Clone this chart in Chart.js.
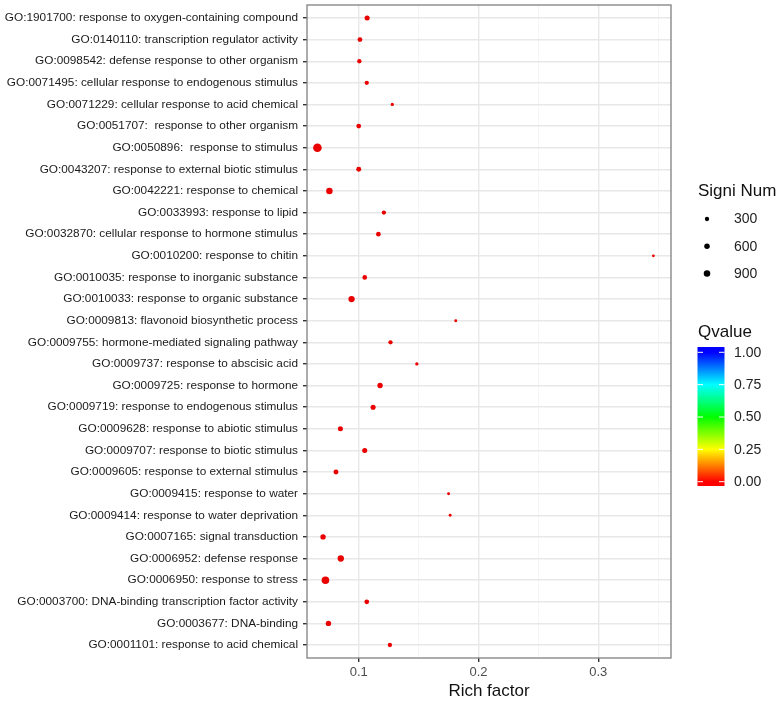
<!DOCTYPE html>
<html>
<head>
<meta charset="utf-8">
<script src="https://cdn.jsdelivr.net/npm/chart.js@4.4.1/dist/chart.umd.min.js"></script>
<style>
  html, body { margin: 0; padding: 0; background: #ffffff; }
  #wrap { width: 781px; height: 702px; position: relative; }
</style>
</head>
<body>
<div id="wrap"><canvas id="c" width="781" height="702"></canvas></div>
<script>
// ---- data (top row first) ----
const categories = [
  "GO:1901700: response to oxygen-containing compound",
  "GO:0140110: transcription regulator activity",
  "GO:0098542: defense response to other organism",
  "GO:0071495: cellular response to endogenous stimulus",
  "GO:0071229: cellular response to acid chemical",
  "GO:0051707:  response to other organism",
  "GO:0050896:  response to stimulus",
  "GO:0043207: response to external biotic stimulus",
  "GO:0042221: response to chemical",
  "GO:0033993: response to lipid",
  "GO:0032870: cellular response to hormone stimulus",
  "GO:0010200: response to chitin",
  "GO:0010035: response to inorganic substance",
  "GO:0010033: response to organic substance",
  "GO:0009813: flavonoid biosynthetic process",
  "GO:0009755: hormone-mediated signaling pathway",
  "GO:0009737: response to abscisic acid",
  "GO:0009725: response to hormone",
  "GO:0009719: response to endogenous stimulus",
  "GO:0009628: response to abiotic stimulus",
  "GO:0009707: response to biotic stimulus",
  "GO:0009605: response to external stimulus",
  "GO:0009415: response to water",
  "GO:0009414: response to water deprivation",
  "GO:0007165: signal transduction",
  "GO:0006952: defense response",
  "GO:0006950: response to stress",
  "GO:0003700: DNA-binding transcription factor activity",
  "GO:0003677: DNA-binding",
  "GO:0001101: response to acid chemical"
];
const richFactor = [
  0.107, 0.101, 0.1005, 0.1067, 0.128, 0.100, 0.0655, 0.100, 0.0755, 0.121,
  0.1164, 0.346, 0.105, 0.094, 0.181, 0.1265, 0.1485, 0.1178, 0.112, 0.0847,
  0.105, 0.081, 0.175, 0.1763, 0.0702, 0.085, 0.0722, 0.1067, 0.0747, 0.126
];
const signiNum = [
  480, 400, 300, 300, 90, 400, 1740, 450, 900, 300,
  380, 20, 380, 850, 40, 300, 100, 560, 480, 480,
  480, 450, 40, 40, 560, 850, 1290, 400, 560, 300
];
const qvalue = [
  0, 0, 0, 0, 0, 0, 0, 0, 0, 0,
  0, 0, 0, 0, 0, 0, 0, 0, 0, 0,
  0, 0, 0, 0, 0, 0, 0, 0, 0, 0
];
const xMajorTicks = [0.1, 0.2, 0.3];
const xMinorTicks = [0.15, 0.25, 0.35];
const sizeBreaks = [300, 600, 900];
const qBreaks = [0.00, 0.25, 0.50, 0.75, 1.00];

// ---- helpers ----
function radiusOf(v) { return 1.08 * Math.sqrt(1.5 + v * 0.00833); }
function colorOf(q, light) { return 'hsl(' + (240 * q) + ',100%,' + (light || 46) + '%)'; }

const FONT = '"Liberation Sans", Arial, Helvetica, sans-serif';

const points = richFactor.map((x, i) => ({ x: x, y: i }));

const decor = {
  id: 'decor',
  afterDraw(chart) {
    const ctx = chart.ctx;
    const a = chart.chartArea;
    ctx.save();
    // panel border
    ctx.strokeStyle = '#808080';
    ctx.lineWidth = 1.3;
    ctx.strokeRect(a.left, a.top, a.right - a.left, a.bottom - a.top);

    const lx = a.right + 27;
    // size legend
    ctx.fillStyle = '#111';
    ctx.font = '17px ' + FONT;
    ctx.textBaseline = 'middle';
    ctx.textAlign = 'left';
    ctx.fillText('Signi Num', lx, 191);
    ctx.font = '14px ' + FONT;
    sizeBreaks.forEach((b, i) => {
      const y = 219 + i * 27.3;
      ctx.fillStyle = '#000';
      ctx.beginPath();
      ctx.arc(lx + 9, y, radiusOf(b), 0, Math.PI * 2);
      ctx.fill();
      ctx.fillStyle = '#222';
      ctx.fillText(String(b), lx + 36, y + 0.5);
    });

    // colour bar legend
    ctx.fillStyle = '#111';
    ctx.font = '17px ' + FONT;
    ctx.fillText('Qvalue', lx, 332);
    const bx = lx - 0.5, bw = 27, bTop = 347, bBot = 486;
    const y0 = 481.7, y1 = 352.3;
    const g = ctx.createLinearGradient(0, y0, 0, y1);
    for (let k = 0; k <= 12; k++) {
      const q = k / 12;
      g.addColorStop(q, colorOf(q, 50));
    }
    ctx.fillStyle = g;
    ctx.fillRect(bx, bTop, bw, bBot - bTop);
    ctx.strokeStyle = '#ffffff';
    ctx.lineWidth = 1;
    ctx.font = '14px ' + FONT;
    qBreaks.forEach(q => {
      const y = y0 + (y1 - y0) * q;
      ctx.beginPath();
      ctx.moveTo(bx, y); ctx.lineTo(bx + 5.5, y);
      ctx.moveTo(bx + bw - 5.5, y); ctx.lineTo(bx + bw, y);
      ctx.stroke();
      ctx.fillStyle = '#222';
      ctx.fillText(q.toFixed(2), lx + 36, y + 0.5);
    });
    ctx.restore();
  }
};

new Chart(document.getElementById('c'), {
  type: 'scatter',
  data: {
    datasets: [{
      data: points,
      pointRadius: (c) => radiusOf(signiNum[c.dataIndex]),
      pointHoverRadius: (c) => radiusOf(signiNum[c.dataIndex]),
      pointBackgroundColor: (c) => colorOf(qvalue[c.dataIndex]),
      pointBorderWidth: 0,
      borderWidth: 0
    }]
  },
  options: {
    responsive: false,
    animation: false,
    events: [],
    layout: { padding: { left: 0, right: 110, top: 5, bottom: 0 } },
    plugins: { legend: { display: false }, tooltip: { enabled: false } },
    scales: {
      x: {
        type: 'linear',
        min: 0.0568,
        max: 0.3607,
        afterBuildTicks: (s) => {
          s.ticks = xMajorTicks.concat(xMinorTicks).sort((p, q) => p - q).map(v => ({ value: v }));
        },
        afterFit: (s) => { s.height = 44; s.paddingLeft = 0; s.paddingRight = 0; },
        border: { display: false },
        grid: {
          color: (c) => xMajorTicks.some(v => Math.abs(v - c.tick.value) < 1e-9) ? '#e8e8e8' : '#f2f2f2',
          lineWidth: (c) => xMajorTicks.some(v => Math.abs(v - c.tick.value) < 1e-9) ? 1.4 : 0.8,
          tickColor: (c) => xMajorTicks.some(v => Math.abs(v - c.tick.value) < 1e-9) ? '#333' : 'rgba(0,0,0,0)',
          tickLength: 4,
          drawTicks: true
        },
        ticks: {
          autoSkip: false,
          maxRotation: 0,
          padding: 3,
          color: '#4d4d4d',
          font: { family: FONT, size: 13 },
          callback: (v) => xMajorTicks.some(m => Math.abs(m - v) < 1e-9) ? String(v) : ''
        },
        title: {
          display: true,
          text: 'Rich factor',
          color: '#111',
          font: { family: FONT, size: 17 },
          padding: { top: 0, bottom: 0 }
        }
      },
      y: {
        type: 'linear',
        reverse: true,
        min: -0.6,
        max: categories.length - 1 + 0.6,
        afterBuildTicks: (s) => { s.ticks = categories.map((_, i) => ({ value: i })); },
        afterFit: (s) => { s.width = 307; s.paddingTop = 0; s.paddingBottom = 0; },
        border: { display: false },
        grid: {
          color: '#e8e8e8',
          lineWidth: 1.4,
          tickColor: '#333',
          tickLength: 4,
          drawTicks: true
        },
        ticks: {
          autoSkip: false,
          padding: 5,
          color: '#1a1a1a',
          font: { family: FONT, size: 11.8 },
          callback: (v) => categories[v]
        }
      }
    }
  },
  plugins: [decor]
});
</script>
</body>
</html>
